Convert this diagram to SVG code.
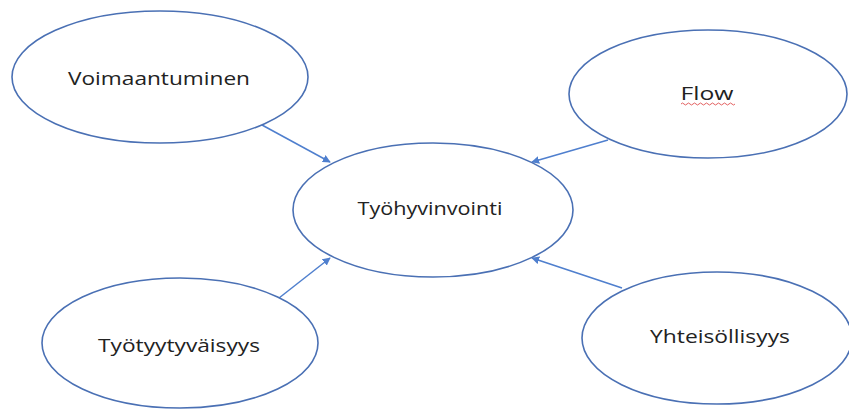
<svg xmlns="http://www.w3.org/2000/svg" width="849" height="409" viewBox="0 0 849 409">
<style>
.n{fill:#fff;stroke:#4a70b4;stroke-width:1.6}
.t{font-family:"Open Sans","Liberation Sans",sans-serif;font-size:18px;fill:#222;text-anchor:middle}
.c{stroke:#4f7fce;stroke-width:1.5;fill:none}
</style>
<defs>
<marker id="ah" viewBox="0 0 10 10" refX="9" refY="5" markerWidth="8" markerHeight="8" markerUnits="userSpaceOnUse" orient="auto">
<path d="M0,0 L10,5 L0,10 z" fill="#4f7fce"/>
</marker>
</defs>
<rect width="849" height="409" fill="#fff"/>
<g id="connectors">
<line class="c" x1="262" y1="125" x2="330" y2="162" marker-end="url(#ah)"/>
<line class="c" x1="608" y1="140" x2="532" y2="162" marker-end="url(#ah)"/>
<line class="c" x1="279" y1="298" x2="330" y2="258" marker-end="url(#ah)"/>
<line class="c" x1="622" y1="288" x2="532" y2="258" marker-end="url(#ah)"/>
</g>
<g id="voimaantuminen">
<ellipse class="n" cx="160" cy="77" rx="148" ry="66"/>
<text class="t" x="159" y="85" textLength="182" lengthAdjust="spacingAndGlyphs">Voimaantuminen</text>
</g>
<g id="flow">
<ellipse class="n" cx="708" cy="94" rx="139" ry="64"/>
<text class="t" x="707" y="100" textLength="53" lengthAdjust="spacingAndGlyphs">Flow</text>
<path d="M681,104 q1.5,-2 3,0 t3,0 t3,0 t3,0 t3,0 t3,0 t3,0 t3,0 t3,0 t3,0 t3,0 t3,0 t3,0 t3,0 t3,0 t3,0 t3,0 t3,0" fill="none" stroke="#e05050" stroke-width="0.9"/>
</g>
<g id="tyohyvinvointi">
<ellipse class="n" cx="433" cy="210" rx="140" ry="67"/>
<text class="t" x="430" y="215" textLength="145" lengthAdjust="spacingAndGlyphs">Työhyvinvointi</text>
</g>
<g id="tyotyytyvaisyys">
<ellipse class="n" cx="180" cy="343" rx="138" ry="65"/>
<text class="t" x="179" y="352" textLength="162" lengthAdjust="spacingAndGlyphs">Työtyytyväisyys</text>
</g>
<g id="yhteisollisyys">
<ellipse class="n" cx="717" cy="338" rx="135" ry="66"/>
<text class="t" x="720" y="343" textLength="140" lengthAdjust="spacingAndGlyphs">Yhteisöllisyys</text>
</g>
</svg>
